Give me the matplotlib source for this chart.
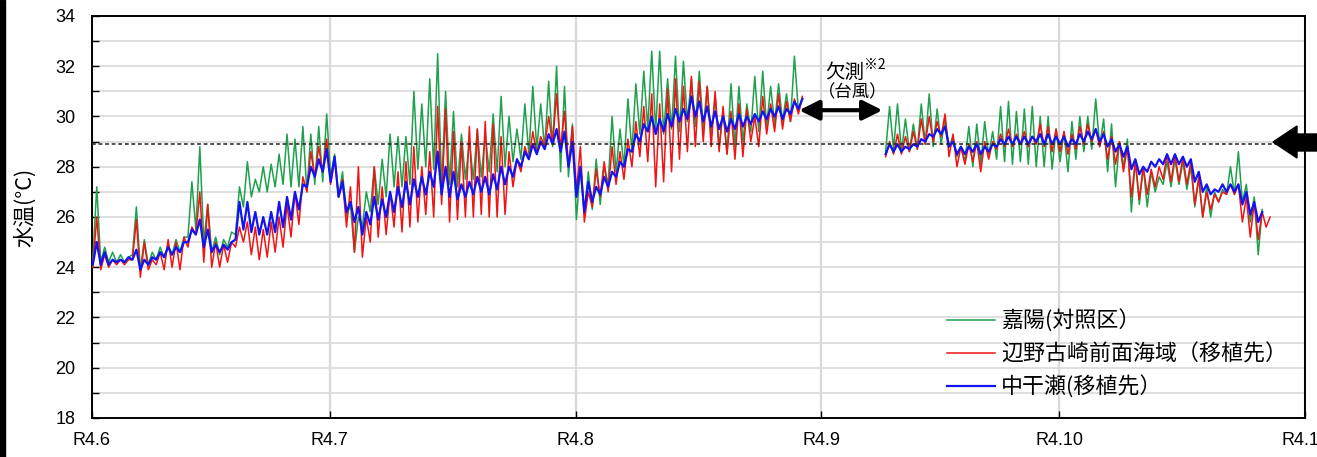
import numpy as np
import matplotlib
matplotlib.use('Agg')
import matplotlib.pyplot as plt
from matplotlib.patches import Rectangle, Polygon
from matplotlib.ticker import MultipleLocator

plt.rcParams['font.family'] = ['Liberation Sans', 'Noto Sans CJK JP', 'DejaVu Sans']

# days counted from R4.6.1; A = Jun-Aug, B = after the typhoon gap
start_a = 0
start_b = 100

kayo_hi_a = [27.2, 24.8, 24.6, 24.5, 24.4, 26.4, 25.1, 24.6, 24.8, 24.9,
             25.1, 25.2, 27.4, 28.8, 26.5, 25.2, 25.1, 25.4, 27.2, 28.2,
             27.5, 28.0, 28.1, 28.5, 29.3, 29.1, 29.6, 29.3, 29.6, 30.1,
             28.5, 27.8, 26.5, 26.0, 27.0, 28.0, 28.3, 29.3, 29.2, 29.2,
             31.0, 30.5, 31.5, 32.5, 31.0, 30.2, 29.3, 29.0, 29.5, 29.3,
             30.1, 30.8, 30.0, 29.5, 30.5, 31.2, 30.5, 31.4, 32.0, 31.2,
             29.7, 28.0, 27.8, 28.3, 28.0, 30.0, 29.5, 30.7, 31.3, 31.8,
             32.6, 32.6, 31.5, 32.4, 32.2, 31.5, 31.8, 31.2, 30.8, 30.2,
             31.3, 31.2, 30.5, 31.6, 31.8, 31.2, 31.3, 30.9, 32.4, 30.7]
kayo_lo_a = [24.3, 24.2, 24.2, 24.2, 24.2, 24.5, 23.9, 24.1, 24.3, 24.4,
             24.5, 24.6, 25.2, 25.5, 25.0, 24.6, 24.5, 24.8, 25.3, 26.4,
             26.8, 27.0, 27.0, 27.2, 27.3, 27.2, 27.2, 27.0, 27.3, 27.4,
             27.6, 26.8, 26.0, 24.6, 25.6, 26.2, 26.5, 26.8, 27.2, 27.2,
             27.3, 27.9, 28.0, 27.9, 27.2, 27.3, 27.2, 27.5, 27.5, 27.6,
             27.8, 27.8, 28.0, 28.2, 28.3, 28.5, 28.7, 28.7, 28.8, 27.8,
             27.6, 25.9, 26.1, 26.3, 26.5, 27.3, 27.8, 28.0, 28.6, 29.3,
             29.5, 29.4, 29.3, 29.5, 29.4, 29.8, 29.6, 29.5, 29.2, 28.8,
             28.5, 28.8, 29.0, 29.4, 29.4, 29.6, 29.7, 29.8, 29.8, 30.2]
kayo_hi_b = [30.4, 30.5, 29.9, 29.7, 30.5, 30.9, 30.3, 29.9, 29.2, 28.8,
             29.6, 29.7, 29.8, 29.4, 30.4, 30.6, 30.2, 30.3, 30.4, 30.0,
             30.0, 29.5, 29.4, 29.8, 30.0, 30.0, 30.7, 29.9, 29.7, 29.0,
             29.1, 28.3, 28.0, 27.8, 27.6, 28.2, 28.3, 28.2, 28.0, 27.5,
             27.2, 27.0, 27.1, 28.0, 28.6, 27.3, 26.8, 26.3]
kayo_lo_b = [28.6, 28.7, 28.6, 28.6, 28.7, 28.9, 28.8, 28.9, 28.8, 28.4,
             28.2, 28.0, 28.1, 28.4, 28.3, 28.2, 28.1, 28.2, 28.1, 28.0,
             28.0, 27.9, 28.2, 27.8, 28.3, 28.6, 28.7, 28.8, 27.8, 27.2,
             28.0, 26.2, 26.5, 26.4, 27.0, 27.3, 27.2, 27.3, 27.1, 26.4,
             26.0, 26.0, 26.6, 26.9, 26.9, 26.6, 25.8, 24.5]

henoko_hi_a = [26.0, 24.5, 24.3, 24.3, 24.3, 25.9, 25.0, 24.3, 24.6, 25.1,
               25.0, 25.2, 25.6, 27.0, 26.5, 25.0, 24.9, 25.0, 25.6, 25.8,
               25.6, 25.5, 25.8, 26.0, 26.5, 27.0, 27.6, 28.6, 28.8, 29.1,
               28.3, 27.5, 27.2, 28.0, 26.0, 28.0, 27.2, 27.0, 27.8, 28.2,
               28.8, 28.0, 28.6, 30.4, 30.3, 29.4, 29.0, 29.6, 29.5, 29.8,
               29.7, 29.2, 28.6, 28.3, 28.8, 29.4, 29.2, 30.0, 30.9, 30.2,
               29.6, 28.8, 27.0, 27.9, 28.2, 28.8, 28.6, 29.1, 29.8, 30.4,
               30.9, 30.5, 31.1, 31.5, 31.2, 31.6, 31.4, 31.2, 31.0, 30.4,
               30.2, 30.5, 30.3, 30.0, 30.8, 30.5, 30.9, 30.6, 30.7, 30.8]
henoko_lo_a = [24.0, 23.9, 24.0, 24.1, 24.1, 24.3, 23.6, 23.9, 24.1, 23.9,
               24.0, 23.9, 24.8, 25.3, 24.2, 24.0, 24.0, 24.2, 24.8, 25.0,
               24.5, 24.3, 24.4, 24.6, 24.8, 25.2, 25.7, 27.0, 27.6, 27.8,
               27.3, 26.8, 25.6, 24.6, 24.4, 25.0, 25.2, 25.3, 25.6, 25.4,
               25.6, 25.8, 26.1, 26.0, 26.5, 25.8, 25.9, 26.0, 26.0, 26.1,
               26.0, 26.0, 26.1, 27.2, 27.8, 28.3, 28.5, 28.8, 28.9, 28.7,
               28.0, 27.0, 25.8, 26.4, 26.8, 27.0, 27.3, 27.5, 28.0, 28.4,
               28.2, 27.2, 27.4, 27.8, 28.3, 28.6, 28.8, 29.0, 28.8, 28.6,
               28.5, 28.3, 28.4, 29.0, 28.8, 29.3, 29.4, 29.5, 29.8, 30.1]
henoko_hi_b = [29.0, 29.3, 29.2, 29.4, 29.9, 30.0, 29.8, 30.1, 29.3, 28.8,
               28.9, 29.0, 29.0, 29.0, 29.3, 29.5, 29.3, 29.4, 29.2, 29.7,
               29.6, 29.5, 29.4, 29.3, 29.6, 29.7, 29.5, 29.4, 29.2, 29.0,
               28.8, 28.2, 28.0, 27.9, 28.0, 28.5, 28.5, 28.4, 28.2, 27.6,
               27.0, 26.9, 27.0, 27.3, 27.3, 26.8, 26.6, 26.2, 26.0]
henoko_lo_b = [28.4, 28.5, 28.5, 28.6, 28.7, 28.9, 29.0, 29.2, 28.4, 28.0,
               28.1, 28.2, 27.8, 28.3, 28.7, 28.8, 28.8, 28.9, 28.8, 28.9,
               28.8, 28.6, 28.6, 28.5, 28.7, 28.9, 29.0, 28.8, 28.3, 28.1,
               27.8, 26.8, 26.7, 26.9, 27.2, 27.5, 27.4, 27.4, 27.3, 26.5,
               26.0, 26.3, 26.6, 26.9, 26.9, 25.8, 25.2, 25.1, 25.6]

nakabishi_hi_a = [25.0, 24.6, 24.3, 24.3, 24.4, 24.7, 24.3, 24.4, 24.6, 24.8,
                  24.8, 25.0, 25.5, 25.9, 25.5, 24.9, 24.9, 25.0, 26.6, 26.6,
                  26.2, 26.0, 26.2, 26.6, 26.8, 27.0, 27.3, 28.0, 28.3, 28.7,
                  28.4, 27.4, 26.6, 26.4, 26.2, 26.8, 26.7, 27.0, 27.2, 27.4,
                  27.5, 27.6, 27.8, 28.6, 28.0, 27.8, 27.3, 27.4, 27.6, 27.6,
                  27.7, 28.0, 28.0, 28.3, 28.6, 28.9, 29.0, 29.3, 29.5, 29.4,
                  29.0, 28.0, 27.4, 27.2, 27.6, 27.8, 28.2, 28.7, 29.3, 29.7,
                  30.0, 29.9, 30.1, 30.3, 30.3, 30.8, 30.6, 30.4, 30.2, 30.0,
                  29.9, 30.1, 30.0, 30.1, 30.2, 30.3, 30.4, 30.3, 30.6, 30.7]
nakabishi_lo_a = [24.1, 24.1, 24.1, 24.2, 24.2, 24.3, 23.9, 24.1, 24.3, 24.4,
                  24.5, 24.6, 25.0, 25.3, 24.8, 24.6, 24.6, 24.7, 25.1, 25.5,
                  25.4, 25.3, 25.3, 25.4, 25.6, 25.9, 26.3, 27.2, 27.6, 27.8,
                  27.4, 26.8, 26.2, 25.8, 25.3, 25.7, 25.9, 26.0, 26.2, 26.4,
                  26.5, 26.8, 26.9, 27.2, 26.9, 26.8, 26.7, 26.8, 26.9, 27.0,
                  26.9, 27.1, 27.3, 27.6, 28.0, 28.3, 28.5, 28.7, 28.9, 28.6,
                  28.0, 26.8, 26.2, 26.6, 26.9, 27.2, 27.6, 28.0, 28.6, 29.0,
                  29.4, 29.3, 29.4, 29.6, 29.8, 29.9, 30.0, 29.8, 29.6, 29.5,
                  29.4, 29.5, 29.6, 29.7, 29.8, 29.9, 30.0, 29.9, 30.1, 30.3]
nakabishi_hi_b = [28.9, 28.9, 28.8, 28.9, 29.1, 29.3, 29.5, 29.6, 29.0, 28.8,
                  28.8, 28.9, 28.8, 28.9, 29.1, 29.2, 29.2, 29.2, 29.2, 29.3,
                  29.3, 29.2, 29.2, 29.1, 29.3, 29.4, 29.5, 29.3, 29.1, 28.9,
                  28.8, 28.3, 28.0, 28.2, 28.3, 28.5, 28.5, 28.4, 28.3, 27.8,
                  27.3, 27.1, 27.3, 27.3, 27.3, 27.0, 26.6, 26.2]
nakabishi_lo_b = [28.5, 28.6, 28.6, 28.7, 28.8, 29.0, 29.2, 29.3, 28.8, 28.5,
                  28.5, 28.6, 28.5, 28.6, 28.8, 28.9, 28.9, 28.9, 28.9, 29.0,
                  28.9, 28.9, 28.9, 28.8, 28.9, 29.0, 29.1, 29.0, 28.8, 28.6,
                  28.4, 27.9, 27.7, 27.8, 28.0, 28.1, 28.1, 28.1, 28.0, 27.4,
                  27.0, 26.9, 27.0, 27.0, 27.0, 26.5, 26.1, 25.8]

month_days = [0, 30, 61, 92, 122, 153]
month_labels = ['R4.6', 'R4.7', 'R4.8', 'R4.9', 'R4.10', 'R4.11']
threshold = 28.9

names = ['嘉陽(対照区）', '辺野古崎前面海域（移植先）', '中干瀬(移植先）']
colors = ['#1fa04c', '#f01414', '#1414f0']
widths = [1.1, 1.1, 1.6]


def zigzag(start, hi, lo):
    # night low then afternoon high for each day
    t, v = [], []
    for i, (h, l) in enumerate(zip(hi, lo)):
        t += [start + i + 0.1, start + i + 0.6]
        v += [l, h]
    return t, v


W, H = 1317, 457
fig = plt.figure(figsize=(W / 100, H / 100), dpi=100)
ax = fig.add_axes([92 / W, 1 - 418 / H, (1305 - 92) / W, (418 - 16) / H])

series = [
    (kayo_hi_a, kayo_lo_a, kayo_hi_b, kayo_lo_b),
    (henoko_hi_a, henoko_lo_a, henoko_hi_b, henoko_lo_b),
    (nakabishi_hi_a, nakabishi_lo_a, nakabishi_hi_b, nakabishi_lo_b),
]
for (ha, la, hb, lb), name, c, lw in zip(series, names, colors, widths):
    t, v = zigzag(start_a, ha, la)
    ax.plot(t, v, color=c, lw=lw, label=name, zorder=3)
    t, v = zigzag(start_b, hb, lb)
    ax.plot(t, v, color=c, lw=lw, zorder=3)

ax.axhline(threshold, color='#222222', lw=1.1, ls=(0, (2.5, 1.8)), zorder=4)

ax.set_xlim(0, 153)
ax.set_ylim(18, 34)
ax.set_xticks(month_days)
ax.set_xticklabels(month_labels)
ax.yaxis.set_major_locator(MultipleLocator(2))
ax.yaxis.set_minor_locator(MultipleLocator(1))
ax.tick_params(axis='y', which='both', direction='in', length=5, width=1, labelsize=13, pad=12)
ax.tick_params(axis='x', direction='in', length=5, width=1, labelsize=13, pad=10)
ax.grid(axis='y', which='both', color='#d9d9d9', lw=1.2, zorder=0)
ax.grid(axis='x', which='major', color='#d9d9d9', lw=1.6, zorder=0)
ax.set_axisbelow(True)
for s in ax.spines.values():
    s.set_linewidth(1.4)
    s.set_color('black')

fig.text(25 / W, 1 - 207 / H, '水温(°C)', rotation=90, ha='center', va='center',
         fontsize=15.5, family=['Noto Sans CJK JP', 'DejaVu Sans'])

# missing-data note (typhoon)
ax.annotate('', xy=(99.7, 30.25), xytext=(89.2, 30.25),
            arrowprops=dict(arrowstyle='<|-|>', lw=3, color='black',
                            mutation_scale=30, shrinkA=0, shrinkB=0), zorder=5)
ax.text(94.9, 31.76, '欠測', ha='center', va='center', fontsize=14,
        family=['Noto Sans CJK JP'])
ax.text(98.8, 32.05, '※2', ha='center', va='center', fontsize=10,
        family=['Noto Sans CJK JP'])
ax.text(96.0, 30.96, '（台風）', ha='center', va='center', fontsize=12.5,
        family=['Noto Sans CJK JP'])

leg = ax.legend(loc='upper left', bbox_to_anchor=(947 / W, 1 - 310 / H),
                bbox_transform=fig.transFigure, frameon=False, borderpad=0,
                borderaxespad=0, handlelength=2.2, handletextpad=0.25,
                labelspacing=0.48, prop={'family': ['Noto Sans CJK JP'], 'size': 15.8})

# thick black bar at the left edge and the big arrow at the right edge
fig.patches.append(Rectangle((0, 0), 5 / W, 1, transform=fig.transFigure,
                             color='black', zorder=10))
arrow_px = [(1273, 142), (1297, 126), (1297, 134), (1317, 134),
            (1317, 151), (1297, 151), (1297, 158)]
fig.patches.append(Polygon([(x / W, 1 - y / H) for x, y in arrow_px],
                           closed=True, transform=fig.transFigure,
                           color='black', zorder=10))

fig.savefig('out.png', dpi=100)
